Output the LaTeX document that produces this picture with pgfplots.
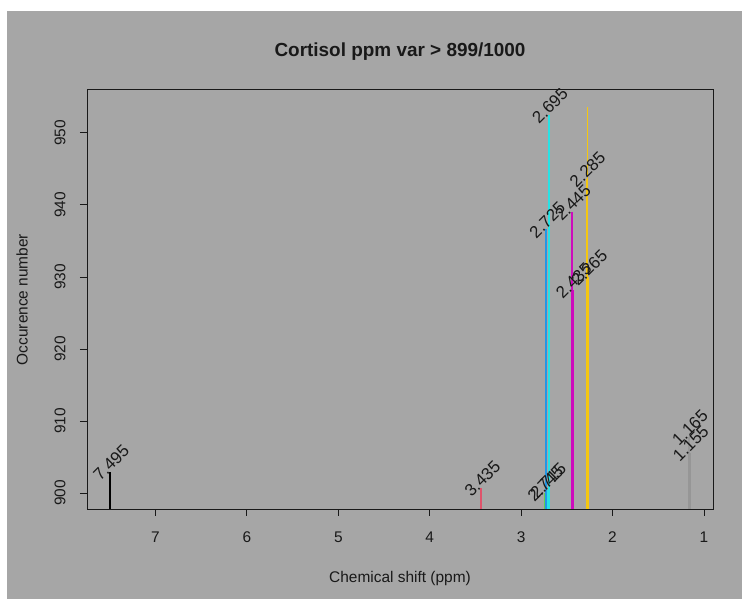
\documentclass[border=0pt]{standalone}
\usepackage{fontspec}
\setmainfont{Liberation Sans}
\usepackage{pgfplots}
\pgfplotsset{compat=1.18}
\definecolor{bg}{RGB}{166,166,166}
\definecolor{rred}{HTML}{DF536B}
\definecolor{rgreen}{HTML}{61D04F}
\definecolor{rblue}{HTML}{2297E6}
\definecolor{rcyan}{HTML}{28E2E5}
\definecolor{rmag}{HTML}{CD0BBC}
\definecolor{rgold}{HTML}{F5C710}
\definecolor{rgray}{RGB}{150,150,150}
\definecolor{ink}{RGB}{25,25,25}
\begin{document}
\begin{tikzpicture}[x=1bp,y=1bp]
\fill[white] (0,0) rectangle (742,599);
\fill[bg] (7,0) rectangle (742,588);
\node[anchor=base, font=\bfseries\fontsize{19}{22}\selectfont, text=ink] at (400,542) {Cortisol ppm var > 899/1000};
\node[anchor=base, font=\fontsize{15.5}{18}\selectfont, text=ink] at (400,16.5) {Chemical shift (ppm)};
\node[anchor=base, rotate=90, font=\fontsize{15.5}{18}\selectfont, text=ink] at (27.5,299.5) {Occurence number};
\begin{axis}[
  at={(87bp,90bp)}, anchor=south west,
  scale only axis, width=626bp, height=420bp,
  x dir=reverse,
  xmin=0.901, xmax=7.749, ymin=897.78, ymax=956.1,
  xtick={1,2,3,4,5,6,7}, ytick={900,910,920,930,940,950},
  xtick pos=lower, ytick pos=left,
  tick align=outside, major tick length=7bp,
  axis line style={draw=ink, line width=0.9bp},
  tick style={draw=ink, line width=0.9bp},
  /pgf/number format/assume math mode=true,
  ticklabel style={font=\fontsize{15.5}{18}\selectfont, text=ink},
  xticklabel style={anchor=base, yshift=-26.5bp},
  yticklabel style={rotate=90, anchor=base},
  yticklabel shift=14.5bp,
  clip=true,
]
\addplot[ycomb, color=black, line width=1.6bp] coordinates {(7.495,902.9)};
\addplot[ycomb, color=rred, line width=1.8bp] coordinates {(3.435,900.7)};
\addplot[ycomb, color=rgreen, line width=1.8bp] coordinates {(2.745,900.0)};
\addplot[ycomb, color=rcyan, line width=1.8bp] coordinates {(2.715,900.4)};
\addplot[ycomb, color=rcyan, line width=1.8bp] coordinates {(2.695,952.5)};
\addplot[ycomb, color=rblue, line width=1.8bp] coordinates {(2.725,936.6)};
\addplot[ycomb, color=rmag, line width=1.8bp] coordinates {(2.445,939.0)};
\addplot[ycomb, color=rmag, line width=1.8bp] coordinates {(2.435,928.2)};
\addplot[ycomb, color=rgold, line width=1.8bp] coordinates {(2.275,953.6)};
\addplot[ycomb, color=rgold, line width=1.8bp] coordinates {(2.285,943.6)};
\addplot[ycomb, color=rgold, line width=1.8bp] coordinates {(2.265,930.0)};
\addplot[ycomb, color=rgray, line width=1.5bp] coordinates {(1.165,907.8)};
\addplot[ycomb, color=rgray, line width=1.5bp] coordinates {(1.155,905.6)};
\tikzset{lab/.style={rotate=45, anchor=base west, inner sep=0pt, font=\fontsize{17}{20}\selectfont, text=ink}}
\node[lab] at (axis cs:7.495,902.9) {\llap{7.}495};
\node[lab] at (axis cs:3.435,900.7) {\llap{3.}435};
\node[lab] at (axis cs:2.745,900.0) {\llap{2.}745};
\node[lab] at (axis cs:2.715,900.4) {\llap{2.}715};
\node[lab] at (axis cs:2.725,936.6) {\llap{2.}725};
\node[lab] at (axis cs:2.695,952.5) {\llap{2.}695};
\node[lab] at (axis cs:2.445,939.0) {\llap{2.}445};
\node[lab] at (axis cs:2.435,928.2) {\llap{2.}435};
\node[lab] at (axis cs:2.285,943.6) {\llap{2.}285};
\node[lab] at (axis cs:2.265,930.0) {\llap{2.}265};
\node[lab] at (axis cs:1.165,907.8) {\llap{1.}165};
\node[lab] at (axis cs:1.155,905.6) {\llap{1.}155};
\end{axis}
\end{tikzpicture}
\end{document}
